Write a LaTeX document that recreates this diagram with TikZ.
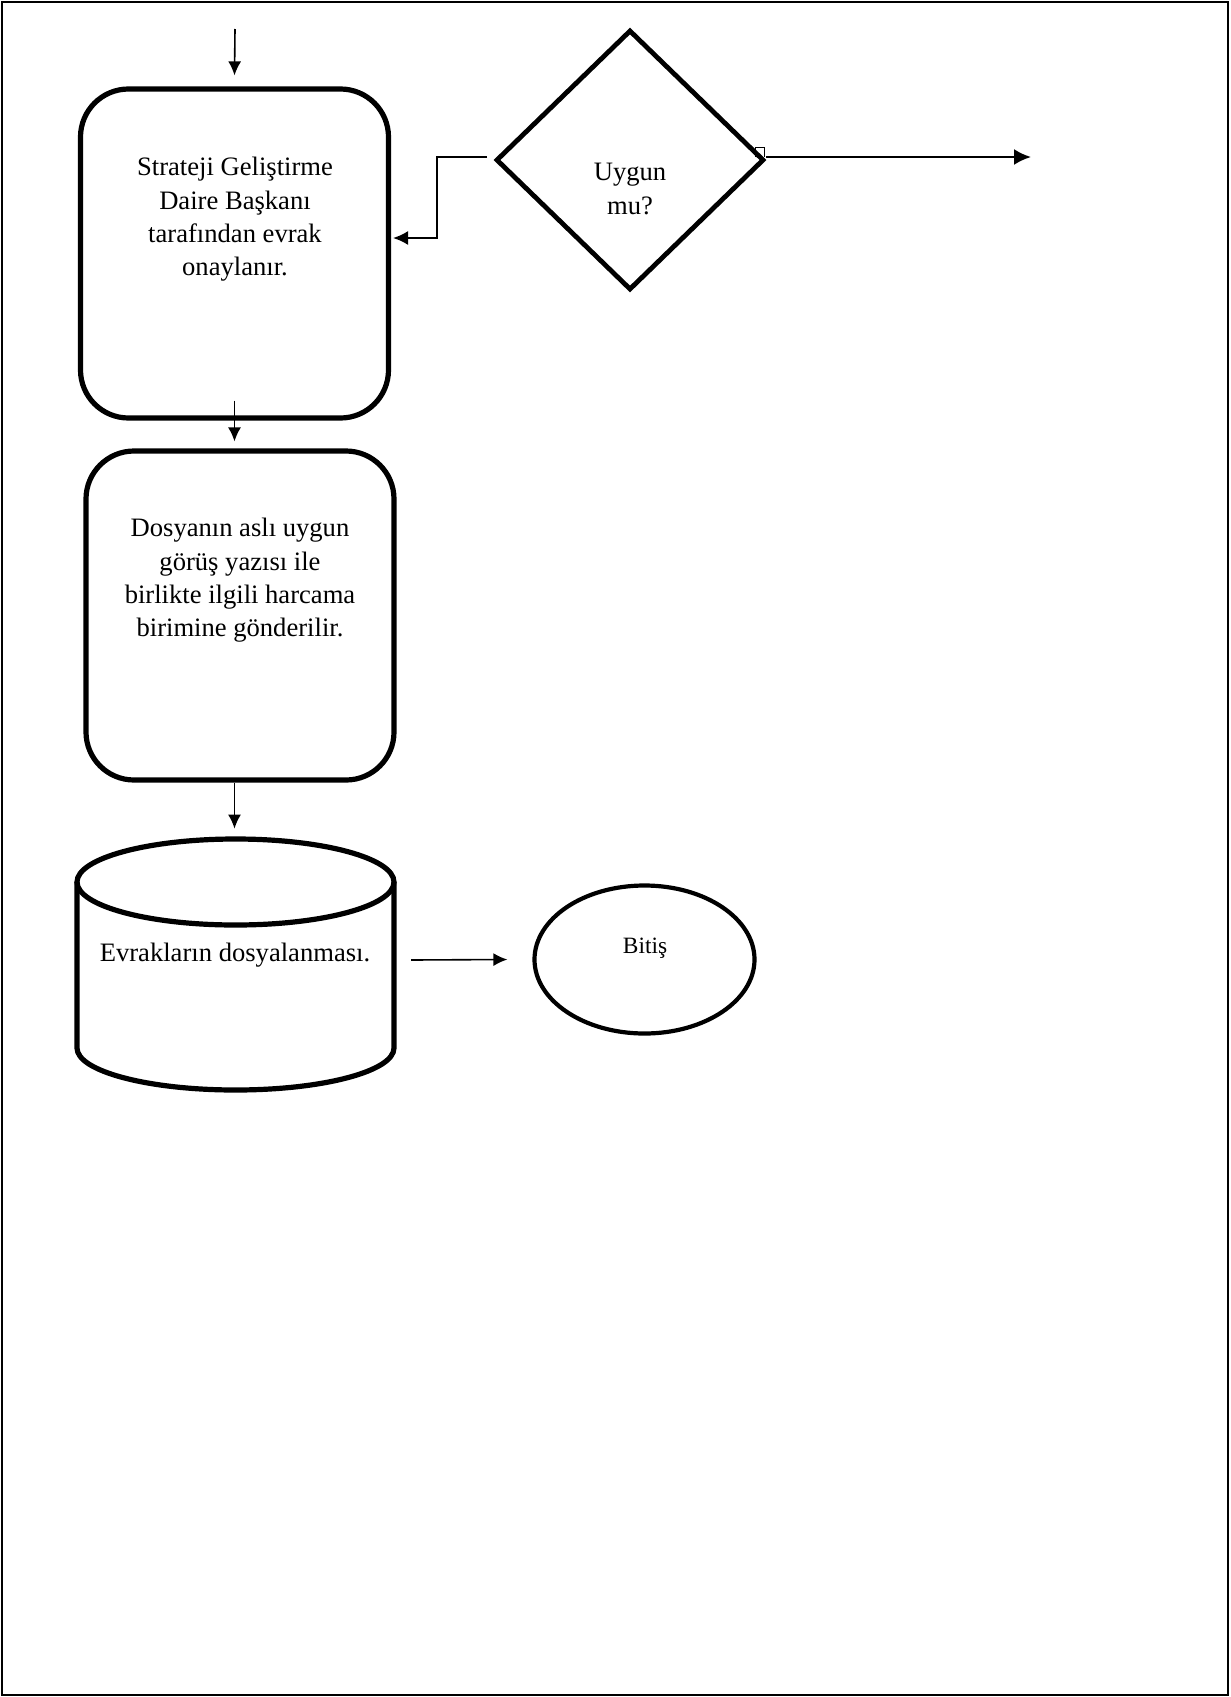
\documentclass[tikz,border=0pt]{standalone}
\usepackage{fontspec}
\setmainfont{Liberation Serif}
\usetikzlibrary{arrows.meta,shapes.geometric,calc}
\begin{document}
\begin{tikzpicture}[x=0.5pt,y=-0.5pt,
  box/.style={draw,line width=2.6pt,rounded corners=24pt,minimum width=154pt,minimum height=164.5pt,inner sep=0pt},
  arr/.style={line width=0.8pt,-{Latex[length=7pt,width=6.5pt]}},
  arrb/.style={line width=1.1pt,-{Latex[length=8.5pt,width=8pt]}},
  txt/.style={align=center,font=\fontsize{13.3}{16.6}\selectfont,inner sep=0pt}]
\useasboundingbox (0,0) rectangle (1231,1697);
\draw[line width=1.3pt] (2,2) rectangle (1228,1695);

% boxes
\node[box] (b1) at (234.5,253.5) {};
\node[txt,anchor=north] (t1) at (235,157) {Strateji Geliştirme\\Daire Başkanı\\tarafından evrak\\onaylanır.};
\node[box] (b2) at (240,615.5) {};
\node[txt,anchor=north] (t2) at (240,518) {Dosyanın aslı uygun\\görüş yazısı ile\\birlikte ilgili harcama\\birimine gönderilir.};

% cylinder
\node[minimum width=158.5pt,minimum height=125.5pt,inner sep=0pt] (cyl) at (235.5,964.5) {};
\draw[line width=2.6pt] (235.5,882) ellipse [x radius=79.25pt,y radius=21.5pt];
\draw[line width=2.6pt] (77,882) -- (77,1048) arc[start angle=180,end angle=360,x radius=79.25pt,y radius=21pt] -- (394,882);
\node[txt] (t3) at (235,955) {Evrakların dosyalanması.};

% end ellipse
\node[draw,ellipse,line width=2.1pt,minimum width=110pt,minimum height=74pt,inner sep=0pt] (bitis) at (644.5,959.5) {};
\node[txt,font=\fontsize{11.7}{14}\selectfont] (t4) at (645,948) {Bitiş};

% diamond
\node[draw,diamond,line width=2.4pt,minimum width=134pt,minimum height=130pt,inner sep=0pt] (dia) at (630,160) {};
\node[txt] (t5) at (630,189) {Uygun\\mu?};

% connectors
\coordinate (s0) at (235,29);
\draw[arr] (s0) -- ([yshift=5.5pt]b1.north);
\draw[arr] ([yshift=10pt]b1.south) -- ([yshift=3.5pt]b1.south |- b2.north);
\draw[arr] (b1.south |- b2.south) -- ++(0,46);
\coordinate (a3s) at (411,960);
\draw[arr] (a3s) -- ([xshift=-12.5pt]bitis.west);
\coordinate (l0) at (487,157);
\coordinate (l1) at (393,238);
\draw[line width=1pt,-{Latex[length=7.5pt,width=7pt]}] (l0) -- (437,157) -- (437,238) -- (l1);
\coordinate (r1) at (1031,157);
\draw[arrb] (dia.east |- r1) -- (r1);
\draw[line width=0.5pt] (755,157) -- (755,147) -- (764,147) -- (764,157);
\end{tikzpicture}
\end{document}
